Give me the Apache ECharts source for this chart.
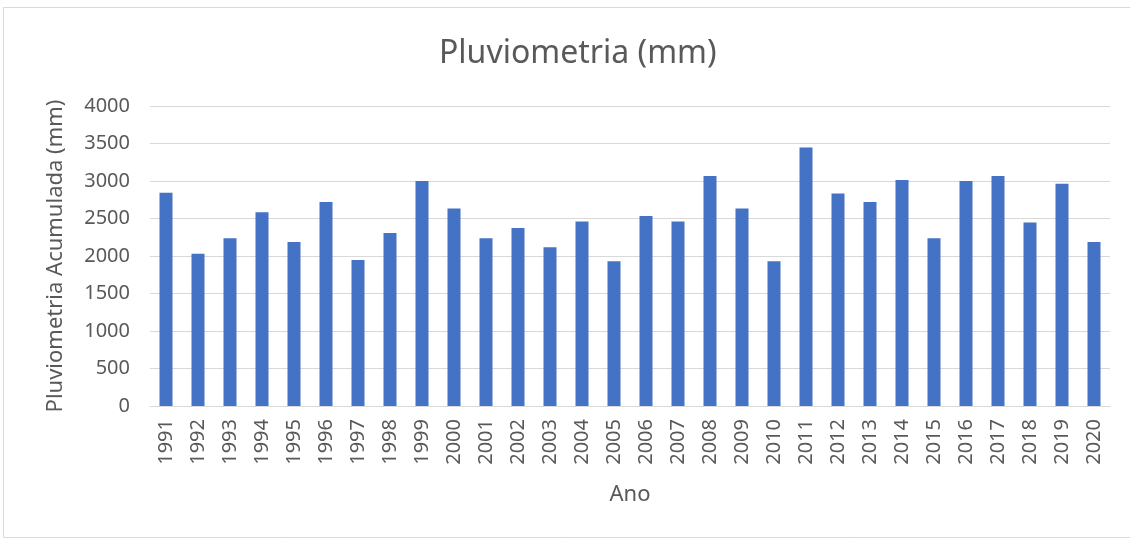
<!DOCTYPE html>
<html>
<head>
<meta charset="utf-8">
<script src="https://cdn.jsdelivr.net/npm/echarts@6/dist/echarts.min.js"></script>
<style>
  html, body { margin: 0; padding: 0; background: #ffffff; }
  #chart { width: 1130px; height: 540px; }
</style>
</head>
<body>
<div id="chart"></div>
<script>
// Annual accumulated rainfall, 1991–2020
const years = ['1991','1992','1993','1994','1995','1996','1997','1998','1999','2000',
               '2001','2002','2003','2004','2005','2006','2007','2008','2009','2010',
               '2011','2012','2013','2014','2015','2016','2017','2018','2019','2020'];
const rainfall = [2845, 2030, 2236, 2585, 2187, 2719, 1947, 2307, 3000, 2633,
                  2236, 2373, 2116, 2460, 1929, 2532, 2460, 3067, 2633, 1929,
                  3447, 2832, 2719, 3013, 2236, 3000, 3067, 2447, 2965, 2187];

const font = 'Noto Sans';
const grey = '#595959';

const chart = echarts.init(document.getElementById('chart'));
chart.setOption({
  animation: false,
  backgroundColor: '#ffffff',
  textStyle: { fontFamily: font },
  graphic: [{
    type: 'rect',
    shape: { x: 3.5, y: 7.5, width: 1130, height: 530 },
    style: { fill: 'none', stroke: '#d9d9d9', lineWidth: 1 },
    silent: true
  }],
  title: {
    text: 'Pluviometria (mm)',
    left: 434,
    top: 33,
    textStyle: { fontFamily: font, fontSize: 32, fontWeight: 'normal', color: grey }
  },
  grid: { left: 150, right: 20, top: 106, bottom: 134 },
  xAxis: {
    type: 'category',
    data: years,
    name: 'Ano',
    nameLocation: 'middle',
    nameGap: 78,
    nameTextStyle: { fontFamily: font, fontSize: 22, color: grey },
    axisLine: { lineStyle: { color: '#d9d9d9', width: 1 } },
    axisTick: { show: false },
    axisLabel: { rotate: 90, color: grey, fontSize: 20, fontFamily: font, margin: 13 }
  },
  yAxis: {
    type: 'value',
    min: 0,
    max: 4000,
    interval: 500,
    name: 'Pluviometria Acumulada (mm)',
    nameLocation: 'middle',
    nameGap: 83,
    nameRotate: 90,
    nameTextStyle: { fontFamily: font, fontSize: 22, color: grey },
    axisLine: { show: false },
    axisTick: { show: false },
    axisLabel: { color: grey, fontSize: 20, fontFamily: font, margin: 20, formatter: v => String(v) },
    splitLine: { lineStyle: { color: '#d9d9d9', width: 1 } }
  },
  series: [{
    type: 'bar',
    data: rainfall,
    barWidth: 13,
    itemStyle: { color: '#4472c4' }
  }]
});
</script>
</body>
</html>
